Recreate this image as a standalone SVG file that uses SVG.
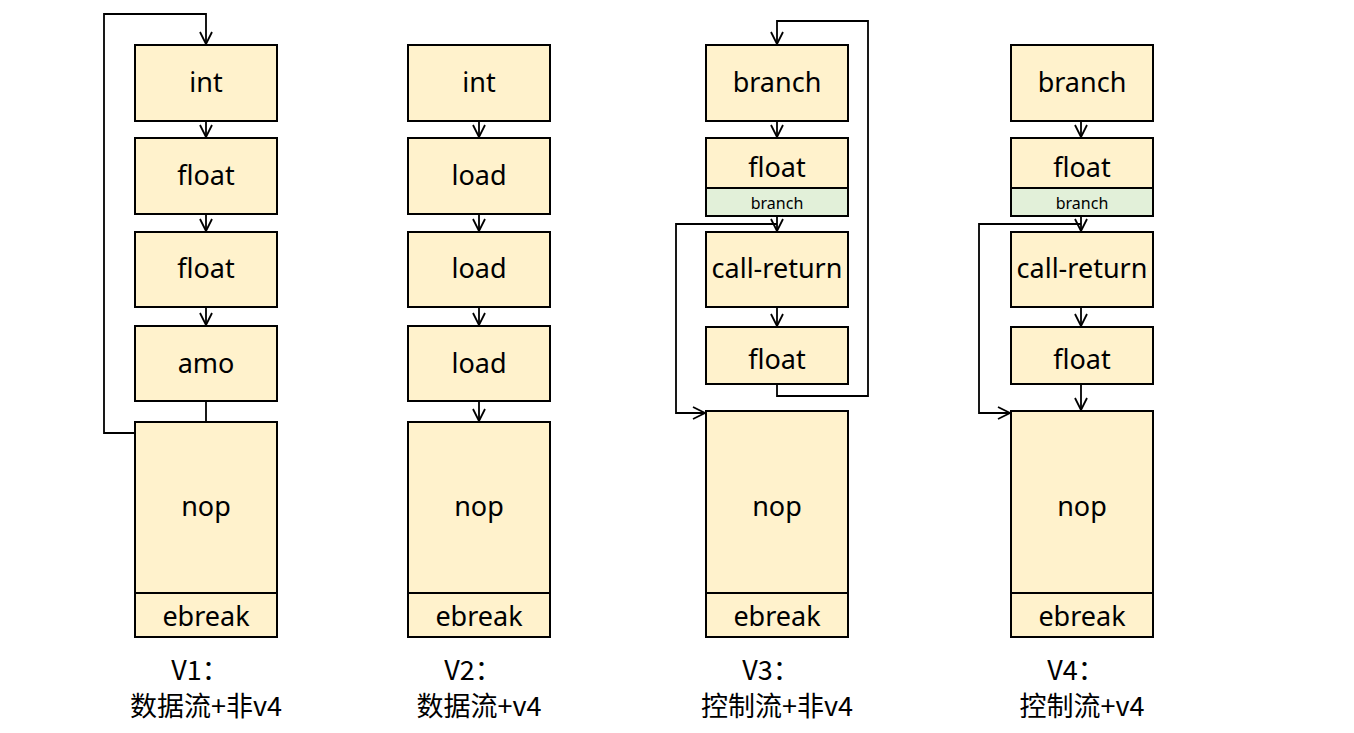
<svg xmlns="http://www.w3.org/2000/svg" width="1354" height="733" viewBox="0 0 1354 733">
<style>
.b{fill:#FFF2CC;stroke:#000;stroke-width:2}
.g{fill:#E2F0D9;stroke:#000;stroke-width:2}
.t{font-family:"Noto Sans","Noto Sans CJK SC",sans-serif;font-size:27px;text-anchor:middle;dominant-baseline:central;fill:#000}
.s{font-family:"Noto Sans","Noto Sans CJK SC",sans-serif;font-size:16px;text-anchor:middle;dominant-baseline:central;fill:#000}
.l{font-family:"Noto Sans CJK SC","Noto Sans",sans-serif;font-size:27px;text-anchor:middle;fill:#000}
.c{fill:none;stroke:#000;stroke-width:1.8}
</style>
<defs>
<marker id="a" viewBox="0 0 14 14" refX="13" refY="7" markerWidth="14" markerHeight="14" markerUnits="userSpaceOnUse" orient="auto">
<path d="M1,1 L13,7 L1,13" fill="none" stroke="#000" stroke-width="1.8"/>
</marker>
</defs>
<g id="connectors">
<path class="c" d="M206,121 V137" marker-end="url(#a)"/>
<path class="c" d="M206,214 V231" marker-end="url(#a)"/>
<path class="c" d="M206,307 V325" marker-end="url(#a)"/>
<path class="c" d="M206,401 V422"/>
<path class="c" d="M135,433 H104 V14 H206 V44" marker-end="url(#a)"/>
<path class="c" d="M479,121 V137" marker-end="url(#a)"/>
<path class="c" d="M479,214 V231" marker-end="url(#a)"/>
<path class="c" d="M479,307 V325" marker-end="url(#a)"/>
<path class="c" d="M479,401 V421" marker-end="url(#a)"/>
<path class="c" d="M777,121 V137" marker-end="url(#a)"/>
<path class="c" d="M777,216 V231" marker-end="url(#a)"/>
<path class="c" d="M777,307 V326" marker-end="url(#a)"/>
<path class="c" d="M777,381 V396 H868 V21 H777 V44" marker-end="url(#a)"/>
<path class="c" d="M777,224 H676 V413 H705" marker-end="url(#a)"/>
<path class="c" d="M1081,121 V137" marker-end="url(#a)"/>
<path class="c" d="M1081,216 V231" marker-end="url(#a)"/>
<path class="c" d="M1081,307 V326" marker-end="url(#a)"/>
<path class="c" d="M1081,381 V410" marker-end="url(#a)"/>
<path class="c" d="M1081,224 H979 V413 H1010" marker-end="url(#a)"/>
</g>
<g id="v1">
<g id="v1-int"><rect class="b" x="135" y="45" width="142" height="76"/><text class="t" x="206" y="81">int</text></g>
<g id="v1-float1"><rect class="b" x="135" y="138" width="142" height="76"/><text class="t" x="206" y="174">float</text></g>
<g id="v1-float2"><rect class="b" x="135" y="232" width="142" height="75"/><text class="t" x="206" y="267">float</text></g>
<g id="v1-amo"><rect class="b" x="135" y="326" width="142" height="75"/><text class="t" x="206" y="362">amo</text></g>
<g id="v1-nop"><rect class="b" x="135" y="422" width="142" height="171"/><text class="t" x="206" y="505">nop</text></g>
<g id="v1-ebreak"><rect class="b" x="135" y="593" width="142" height="44"/><text class="t" x="206" y="615">ebreak</text></g>
<text class="l" x="200" y="680">V1：</text>
<text class="l" x="206" y="716">数据流+非v4</text>
</g>
<g id="v2">
<g id="v2-int"><rect class="b" x="408" y="45" width="142" height="76"/><text class="t" x="479" y="81">int</text></g>
<g id="v2-load1"><rect class="b" x="408" y="138" width="142" height="76"/><text class="t" x="479" y="174">load</text></g>
<g id="v2-load2"><rect class="b" x="408" y="232" width="142" height="75"/><text class="t" x="479" y="267">load</text></g>
<g id="v2-load3"><rect class="b" x="408" y="326" width="142" height="75"/><text class="t" x="479" y="362">load</text></g>
<g id="v2-nop"><rect class="b" x="408" y="422" width="142" height="171"/><text class="t" x="479" y="505">nop</text></g>
<g id="v2-ebreak"><rect class="b" x="408" y="593" width="142" height="44"/><text class="t" x="479" y="615">ebreak</text></g>
<text class="l" x="473" y="680">V2：</text>
<text class="l" x="479" y="716">数据流+v4</text>
</g>
<g id="v3">
<g id="v3-branch"><rect class="b" x="706" y="45" width="142" height="76"/><text class="t" x="777" y="81">branch</text></g>
<g id="v3-float"><rect class="b" x="706" y="138" width="142" height="50"/><text class="t" x="777" y="166">float</text></g>
<g id="v3-branchtag"><rect class="g" x="706" y="188" width="142" height="28"/><text class="s" x="777" y="203">branch</text></g>
<g id="v3-call"><rect class="b" x="706" y="232" width="142" height="75"/><text class="t" x="777" y="267">call-return</text></g>
<g id="v3-float2"><rect class="b" x="706" y="327" width="142" height="57"/><text class="t" x="777" y="358">float</text></g>
<g id="v3-nop"><rect class="b" x="706" y="411" width="142" height="182"/><text class="t" x="777" y="505">nop</text></g>
<g id="v3-ebreak"><rect class="b" x="706" y="593" width="142" height="44"/><text class="t" x="777" y="615">ebreak</text></g>
<text class="l" x="771" y="680">V3：</text>
<text class="l" x="777" y="716">控制流+非v4</text>
</g>
<g id="v4">
<g id="v4-branch"><rect class="b" x="1011" y="45" width="142" height="76"/><text class="t" x="1082" y="81">branch</text></g>
<g id="v4-float"><rect class="b" x="1011" y="138" width="142" height="50"/><text class="t" x="1082" y="166">float</text></g>
<g id="v4-branchtag"><rect class="g" x="1011" y="188" width="142" height="28"/><text class="s" x="1082" y="203">branch</text></g>
<g id="v4-call"><rect class="b" x="1011" y="232" width="142" height="75"/><text class="t" x="1082" y="267">call-return</text></g>
<g id="v4-float2"><rect class="b" x="1011" y="327" width="142" height="57"/><text class="t" x="1082" y="358">float</text></g>
<g id="v4-nop"><rect class="b" x="1011" y="411" width="142" height="182"/><text class="t" x="1082" y="505">nop</text></g>
<g id="v4-ebreak"><rect class="b" x="1011" y="593" width="142" height="44"/><text class="t" x="1082" y="615">ebreak</text></g>
<text class="l" x="1076" y="680">V4：</text>
<text class="l" x="1082" y="716">控制流+v4</text>
</g>
</svg>
